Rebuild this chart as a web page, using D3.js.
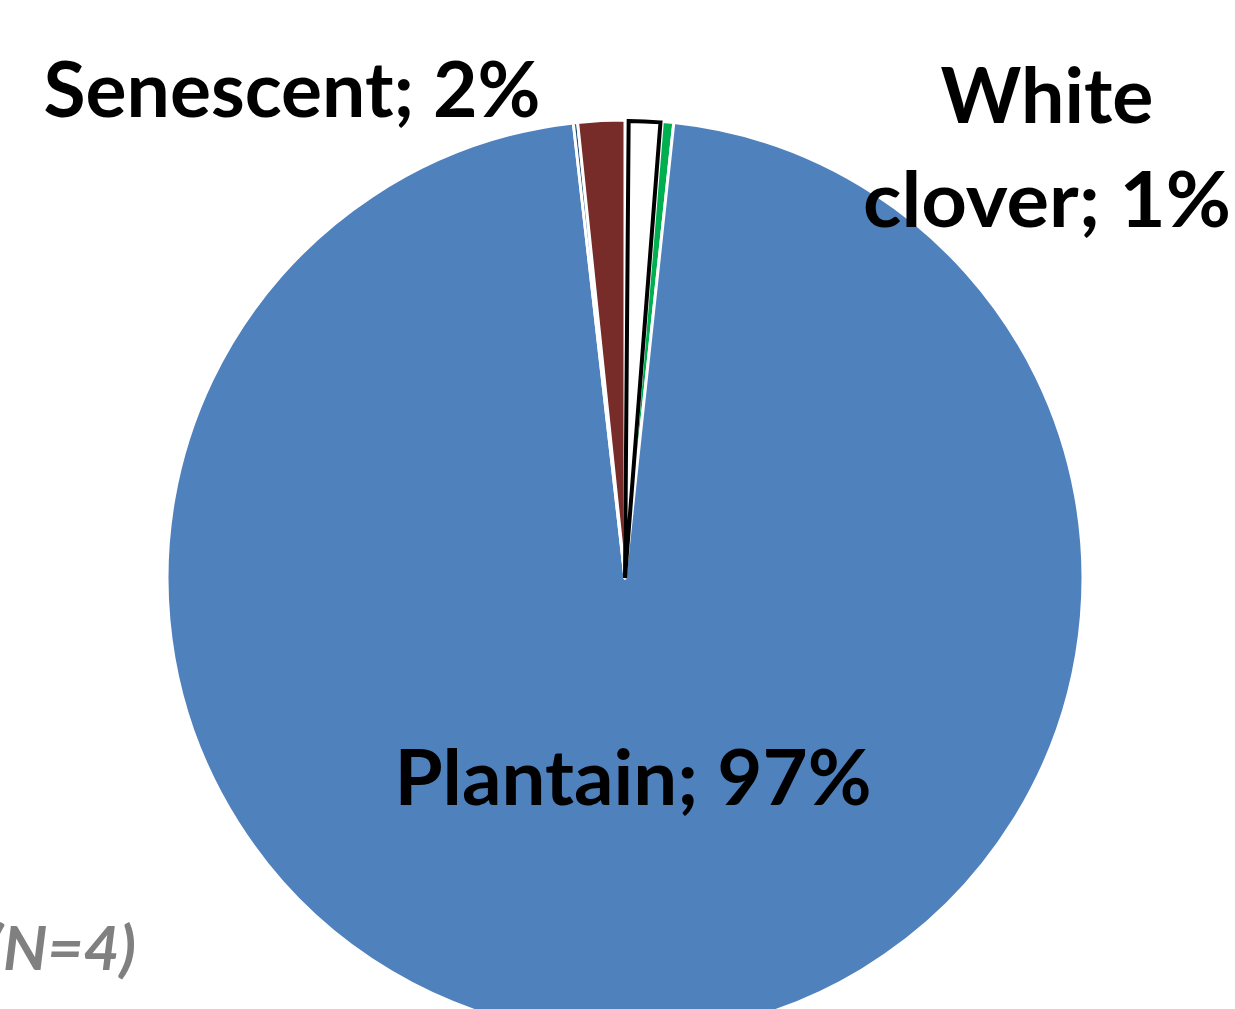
<!DOCTYPE html>
<html>
<head>
<meta charset="utf-8">
<script src="https://cdn.jsdelivr.net/npm/d3@7"></script>
<style>
  body { margin: 0; background: #fff; }
  svg { display: block; }
</style>
</head>
<body>
<script>
var w = 1235;
var h = 1009;

// slices, clockwise from 12 o'clock
var categories = ["White clover", "Grass", "Plantain", "Other", "Senescent"];
var values = [1.3, 0.4, 96.5, 0.15, 1.65];
var colors = ["#FFFFFF", "#00B050", "#4F81BD", "#1F497D", "#772C2A"];
var showLabel = [true, false, true, false, true];

var cx = 625, cy = 578, r = 458;

var svg = d3.select("body").append("svg")
            .attr("width", w)
            .attr("height", h);

var data = categories.map(function(c, i) {
    return { name: c, value: values[i], color: colors[i], show: showLabel[i] };
});

var pie = d3.pie()
    .sort(null)
    .value(function(d) { return d.value; });

var arc = d3.arc()
    .innerRadius(0)
    .outerRadius(r);

var g = svg.append("g")
    .attr("transform", "translate(" + cx + "," + cy + ")");

var arcs = pie(data);

g.selectAll("path.slice")
   .data(arcs)
   .enter()
   .append("path")
   .attr("class", "slice")
   .attr("d", arc)
   .attr("fill", function(d) { return d.data.color; })
   .attr("stroke", "#fff")
   .attr("stroke-width", 3)
   .attr("stroke-linejoin", "round");

// white clover gets the black outline, drawn slightly inset
var inner = d3.arc().innerRadius(0).outerRadius(r - 1);
g.append("path")
   .datum(arcs[0])
   .attr("d", function(d) {
       return inner({ startAngle: d.startAngle + 0.008, endAngle: d.endAngle - 0.004 });
   })
   .attr("fill", "#fff")
   .attr("stroke", "#000")
   .attr("stroke-width", 4)
   .attr("stroke-linejoin", "miter");

// label placement (Excel style best fit)
var labelPos = {
    "White clover": { x: 1047, y: 123, lines: ["White", "clover; "], len: [213, 368] },
    "Senescent": { x: 292, y: 117, lines: ["Senescent; "], len: [497] },
    "Plantain": { x: 633, y: 805, lines: ["Plantain; "], len: [477] }
};

var lbl = svg.append("g")
    .attr("font-family", "Lato, 'Open Sans', sans-serif")
    .attr("font-weight", "bold")
    .attr("font-size", "76px")
    .attr("fill", "#000")
    .attr("text-anchor", "middle");

data.forEach(function(d) {
    if (!d.show) return;
    var p = labelPos[d.name];
    var pct = Math.round(d.value) + "%";
    p.lines.forEach(function(line, i) {
        var txt = (i === p.lines.length - 1) ? line + pct : line;
        lbl.append("text")
           .attr("x", p.x)
           .attr("y", p.y + i * 104)
           .attr("textLength", p.len[i])
           .attr("lengthAdjust", "spacingAndGlyphs")
           .text(txt);
    });
});

// partial title at bottom left (cut off by the chart edge in the original)
svg.append("text")
   .attr("x", 136)
   .attr("y", 970)
   .attr("text-anchor", "end")
   .attr("font-family", "Lato, 'Open Sans', sans-serif")
   .attr("font-weight", "bold")
   .attr("font-style", "italic")
   .attr("font-size", "62px")
   .attr("fill", "#808080")
   .text("(N=4)");
</script>
</body>
</html>
